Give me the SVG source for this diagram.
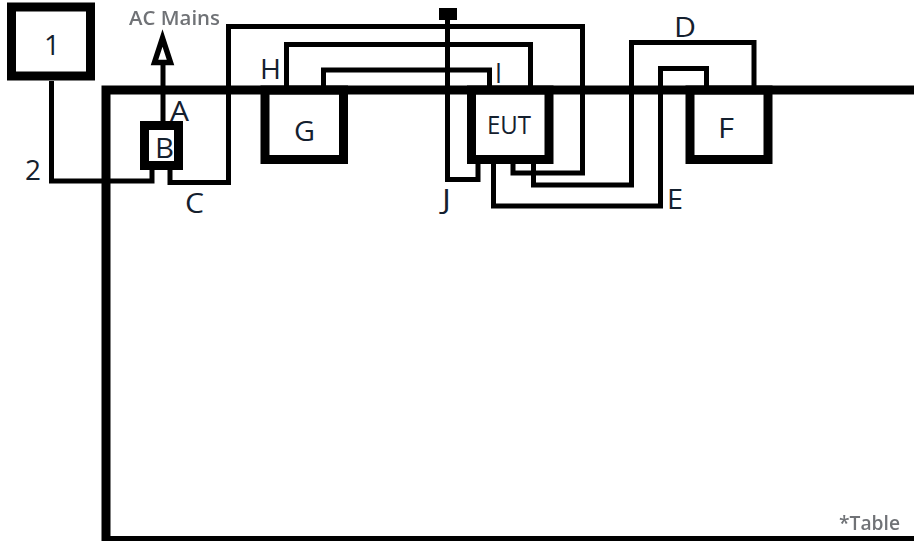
<svg xmlns="http://www.w3.org/2000/svg" width="914" height="541" viewBox="0 0 914 541">
<style>
.box{fill:none;stroke:#000;stroke-width:9}
.w{fill:none;stroke:#000;stroke-width:5}
text{font-family:"Open Sans","Liberation Sans",sans-serif;fill:#14202e;font-size:27px}
.g{fill:#6f7276;font-size:20px;font-weight:600;filter:url(#s)}
.e{font-size:25px}
</style>
<defs><filter id="s" x="-10%" y="-20%" width="120%" height="140%"><feGaussianBlur stdDeviation="0.6"/></filter></defs>
<rect width="914" height="541" fill="#fff"/>
<g id="table">
<path class="box" d="M914 90H106V541"/>
<path d="M106 538.500H914" fill="none" stroke="#000" stroke-width="5"/>
<text class="g" x="839" y="530" textLength="61" lengthAdjust="spacingAndGlyphs">*Table</text>
</g>
<g id="connectors">
<path class="w" d="M51.500 81V181H152V168"/>
<path class="w" d="M163 121V63"/>
<path d="M162.500 38L154.500 62.500H170.500Z" fill="#fff" stroke="#000" stroke-width="5.500"/>
<path class="w" d="M170 168V182.500H228.500V26.500H582.500V173H513V163"/>
<path class="w" d="M286.500 90V44.500H530.500V90"/>
<path class="w" d="M323.500 90V70H489.500V90"/>
<path class="w" d="M447.500 20V179.500H478V163"/>
<path class="w" d="M493.500 163V206H660.500V68.500H706.500V90"/>
<path class="w" d="M533.500 163V185H631.500V42.500H754V90"/>
<rect x="439" y="8" width="18" height="12" fill="#000"/>
</g>
<g id="node-1"><rect class="box" x="11.500" y="7" width="79" height="69" stroke-width="10"/><text x="44" y="55" textLength="16" lengthAdjust="spacingAndGlyphs">1</text></g>
<g id="node-b"><rect class="box" x="144.500" y="125.500" width="34" height="40"/><text x="155" y="158" textLength="19" lengthAdjust="spacingAndGlyphs">B</text></g>
<g id="node-g"><rect class="box" x="265" y="90" width="78.500" height="69.500"/><text x="294" y="141" textLength="21" lengthAdjust="spacingAndGlyphs">G</text></g>
<g id="node-eut"><rect class="box" x="471.500" y="90" width="77.500" height="69.500"/><text class="e" x="487" y="134" textLength="44" lengthAdjust="spacingAndGlyphs">EUT</text></g>
<g id="node-f"><rect class="box" x="690" y="90" width="78" height="69.500"/><text x="718" y="138" textLength="16" lengthAdjust="spacingAndGlyphs">F</text></g>
<g id="labels">
<text class="g" x="129" y="25" textLength="91" lengthAdjust="spacingAndGlyphs">AC Mains</text>
<text x="25" y="180" textLength="16" lengthAdjust="spacingAndGlyphs">2</text>
<text x="170" y="121" textLength="19" lengthAdjust="spacingAndGlyphs">A</text>
<text x="185" y="213" textLength="19" lengthAdjust="spacingAndGlyphs">C</text>
<text x="260" y="79" textLength="21" lengthAdjust="spacingAndGlyphs">H</text>
<text x="495" y="83" textLength="7" lengthAdjust="spacingAndGlyphs">I</text>
<text x="442" y="209" textLength="9" lengthAdjust="spacingAndGlyphs">J</text>
<text x="667" y="209" textLength="16" lengthAdjust="spacingAndGlyphs">E</text>
<text x="674" y="37" textLength="22" lengthAdjust="spacingAndGlyphs">D</text>
</g>
</svg>
